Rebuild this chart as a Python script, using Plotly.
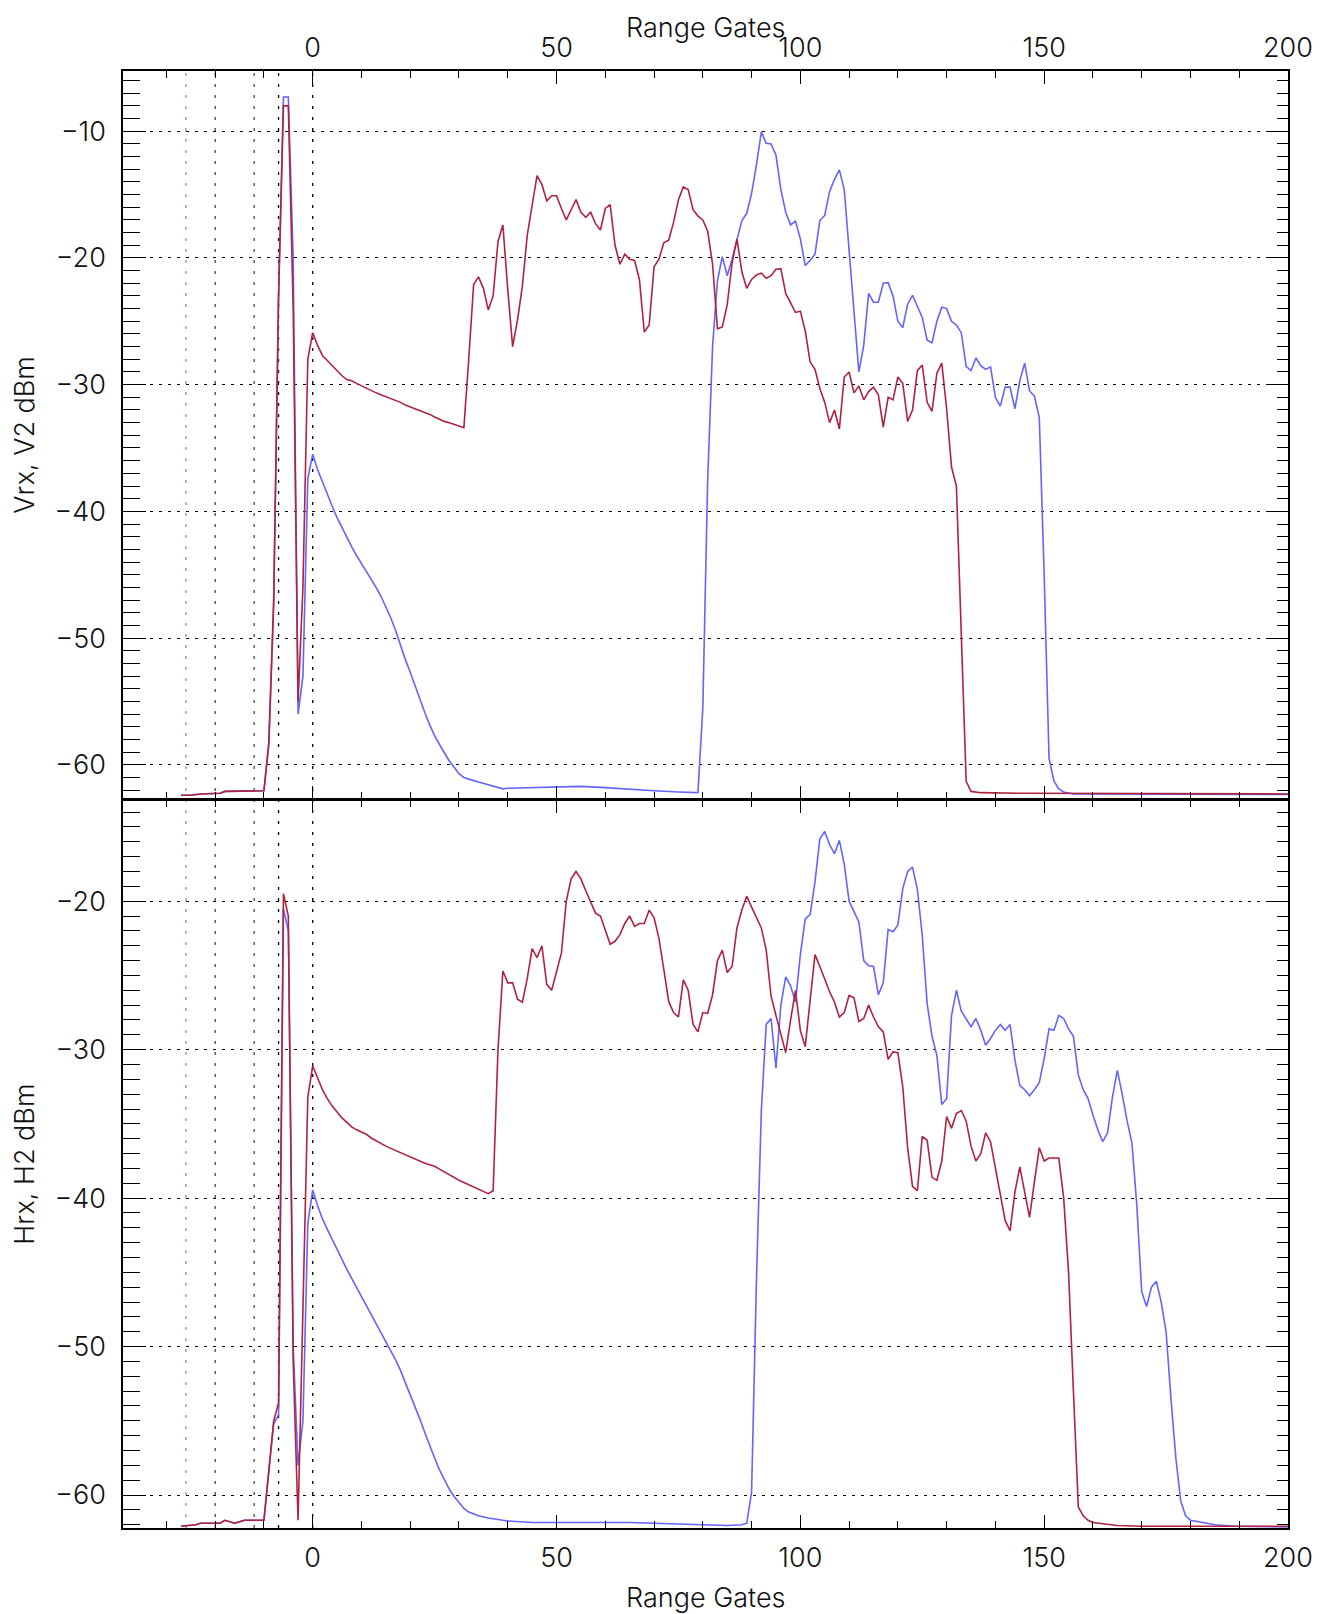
import plotly.graph_objects as go

# ---------------- data ----------------
top_red_gates = [-27, -25, -23, -20, -19, -18, -12, -10, -9, -8, -7, -6, -5, -4, -3, -2, -1,
                 0, 1, 2, 3, 4, 5, 6, 7, 8, 9, 10, 11, 12, 13, 14, 15, 16, 17, 18, 19, 20,
                 21, 22, 23, 24, 25, 26, 27, 28, 29, 30, 31, 32, 33, 34, 35, 36, 37, 38, 39,
                 40, 41, 42, 43, 44, 45, 46, 47, 48, 49, 50, 51, 52, 53, 54, 55, 56, 57, 58,
                 59, 60, 61, 62, 63, 64, 65, 66, 67, 68, 69, 70, 71, 72, 73, 74, 75, 76, 77,
                 78, 79, 80, 81, 82, 83, 84, 85, 86, 87, 88, 89, 90, 91, 92, 93, 94, 95, 96,
                 97, 98, 99, 100, 101, 102, 103, 104, 105, 106, 107, 108, 109, 110, 111, 112,
                 113, 114, 115, 116, 117, 118, 119, 120, 121, 122, 123, 124, 125, 126, 127,
                 128, 129, 130, 131, 132, 133, 134, 135, 137, 145, 200]
top_red_dbm = [-62.4, -62.4, -62.3, -62.3, -62.25, -62.1, -62.05, -62.05, -58.2, -47.0, -23.0,
               -8.0, -8.0, -24.0, -55.0, -46.0, -28.0,
               -25.9, -26.9, -27.7, -28.1, -28.5, -28.9, -29.3, -29.6, -29.7, -29.9, -30.1,
               -30.3, -30.5, -30.65, -30.8, -30.95, -31.05, -31.2, -31.4, -31.6, -31.75,
               -31.85, -32.0, -32.15, -32.35, -32.55, -32.75, -32.9, -33.0, -33.15, -33.3,
               -33.4, -28.0, -22.1, -21.5, -22.4, -24.1, -23.0, -18.7, -17.4,
               -22.5, -27.0, -24.9, -22.2, -18.2, -15.7, -13.5, -14.2, -15.5, -15.1, -15.1,
               -16.1, -17.0, -16.2, -15.4, -16.4, -16.8, -16.4, -17.3, -17.8, -16.1, -15.8,
               -19.0, -20.5, -19.7, -20.1, -20.2, -21.7, -25.85, -25.3, -20.7, -20.1, -18.8,
               -18.6, -17.2, -15.4, -14.4, -14.6, -16.2, -16.7, -17.0, -17.9, -20.5, -25.6,
               -25.45, -23.7, -20.4, -18.5, -21.1, -22.4, -21.7, -21.35, -21.2, -21.6, -21.4,
               -20.9, -20.85, -22.8, -23.6, -24.3, -24.2, -25.75, -28.2, -28.8, -30.3, -31.4,
               -33.0, -32.0, -33.5, -29.4, -29.0, -30.65, -30.1, -31.2, -30.55, -30.2, -30.8,
               -33.35, -31.0, -31.2, -29.4, -29.9, -32.9, -32.0, -28.9, -28.45, -31.4, -32.1,
               -29.1, -28.3, -31.9, -36.5, -38.0, -50.0, -61.3, -62.1, -62.2, -62.25, -62.3]

top_blue_gates = [-27, -25, -23, -20, -19, -18, -12, -10, -9, -8, -7, -6, -5, -4, -3, -2, -1,
                  0, 1, 2, 3, 4, 5, 6, 7, 8, 9, 10, 11, 12, 13, 14, 15, 16, 17, 18, 19, 20,
                  21, 22, 23, 24, 25, 26, 27, 28, 29, 30, 31, 32, 33, 34, 36, 38, 39, 40, 45,
                  50, 55, 60, 65, 70, 75, 79, 80, 81, 82, 83, 84, 85, 86, 87, 88, 89, 90, 91,
                  92, 93, 94, 95, 96, 97, 98, 99, 100, 101, 102, 103, 104, 105, 106, 107, 108,
                  109, 110, 111, 112, 113, 114, 115, 116, 117, 118, 119, 120, 121, 122, 123,
                  124, 125, 126, 127, 128, 129, 130, 131, 132, 133, 134, 135, 136, 137, 138,
                  139, 140, 141, 142, 143, 144, 145, 146, 147, 148, 149, 150, 151, 152, 153,
                  154, 156, 200]
top_blue_dbm = [-62.4, -62.4, -62.3, -62.3, -62.25, -62.1, -62.05, -62.05, -58.5, -47.5, -23.0,
                -7.3, -7.3, -20.0, -56.0, -53.0, -37.4,
                -35.5, -36.7, -37.7, -38.7, -39.6, -40.5, -41.3, -42.1, -42.8, -43.5, -44.1,
                -44.7, -45.3, -46.0, -46.7, -47.5, -48.4, -49.4, -50.6, -51.7, -52.7, -53.8,
                -54.8, -55.9, -56.85, -57.7, -58.4, -59.1, -59.7, -60.2, -60.7, -61.0, -61.15,
                -61.25, -61.35, -61.55, -61.8, -61.9, -61.85, -61.8, -61.75, -61.7, -61.8,
                -61.95, -62.05, -62.15, -62.2, -55.5, -37.5, -27.0, -21.8, -19.9, -21.4, -20.1,
                -18.5, -17.05, -16.5, -14.9, -12.65, -10.05, -10.95, -11.0, -11.9, -14.6,
                -16.4, -17.4, -17.1, -18.5, -20.6, -20.2, -19.7, -17.05, -16.65, -14.75, -13.8,
                -13.05, -14.6, -19.6, -24.4, -29.0, -26.9, -22.8, -23.5, -23.5, -22.0, -21.95,
                -23.0, -25.0, -25.5, -23.65, -22.95, -23.9, -24.7, -26.5, -26.7, -25.0, -23.9,
                -24.0, -25.0, -25.3, -25.9, -28.55, -28.9, -27.9, -28.5, -28.8, -28.6, -31.0,
                -31.7, -30.2, -30.2, -31.9, -29.7, -28.3, -30.5, -30.9, -32.6, -45.0, -59.5,
                -61.3, -61.9, -62.15, -62.3, -62.35]

bot_red_gates = [-27, -24, -23, -19, -18, -17, -16, -15, -14, -10, -9, -8, -7, -6, -5, -4, -3,
                 -2, -1, 0, 1, 2, 3, 4, 5, 6, 7, 8, 9, 10, 11, 12, 13, 14, 15, 16, 17, 18, 19,
                 20, 21, 22, 23, 24, 25, 26, 27, 28, 29, 30, 31, 32, 33, 34, 35, 36, 37, 38,
                 39, 40, 41, 42, 43, 44, 45, 46, 47, 48, 49, 50, 51, 52, 53, 54, 55, 56, 57,
                 58, 59, 60, 61, 62, 63, 64, 65, 66, 67, 68, 69, 70, 71, 72, 73, 74, 75, 76,
                 77, 78, 79, 80, 81, 82, 83, 84, 85, 86, 87, 88, 89, 90, 91, 92, 93, 94, 95,
                 96, 97, 98, 99, 100, 101, 102, 103, 104, 105, 106, 107, 108, 109, 110, 111,
                 112, 113, 114, 115, 116, 117, 118, 119, 120, 121, 122, 123, 124, 125, 126,
                 127, 128, 129, 130, 131, 132, 133, 134, 135, 136, 137, 138, 139, 140, 141,
                 142, 143, 144, 145, 146, 147, 148, 149, 150, 151, 152, 153, 154, 155, 156,
                 157, 158, 159, 160, 162, 165, 170, 200]
bot_red_dbm = [-62.1, -62.0, -61.9, -61.9, -61.7, -61.8, -61.9, -61.8, -61.7, -61.7, -58.4,
               -55.0, -53.8, -19.5, -21.0, -51.0, -61.7, -47.5, -33.2,
               -31.1, -31.9, -32.7, -33.3, -33.8, -34.2, -34.6, -34.9, -35.2, -35.4, -35.55,
               -35.7, -35.95, -36.15, -36.35, -36.5, -36.65, -36.8, -36.95, -37.1, -37.25,
               -37.35, -37.5, -37.65, -37.75, -37.85, -38.05, -38.25, -38.45, -38.65, -38.8,
               -38.95, -39.1, -39.25, -39.4, -39.55, -39.7, -39.5, -30.0, -24.7, -25.5, -25.5,
               -26.6, -26.8, -25.2, -23.2, -23.8, -23.0, -25.6, -26.0, -24.8, -23.5, -20.0,
               -18.5, -18.0, -18.5, -19.3, -20.0, -20.8, -21.0, -22.0, -22.9, -22.7, -22.25,
               -21.5, -21.0, -21.7, -21.5, -21.5, -20.6, -21.1, -22.5, -24.6, -26.75, -27.5,
               -27.8, -25.3, -26.0, -28.3, -28.8, -27.5, -27.55, -26.3, -24.0, -23.3, -24.8,
               -24.4, -21.8, -20.6, -19.66, -20.4, -21.1, -21.8, -23.3, -26.4, -27.7, -28.9,
               -30.2, -28.0, -26.0, -28.7, -29.8, -26.7, -23.6, -24.4, -25.3, -26.1, -26.8,
               -27.8, -27.5, -26.35, -26.5, -28.1, -27.9, -27.0, -27.8, -28.45, -28.8, -30.65,
               -30.15, -30.2, -32.5, -36.6, -39.2, -39.5, -35.85, -36.1, -38.6, -38.8, -37.5,
               -34.5, -35.3, -34.3, -34.1, -34.8, -36.5, -37.5, -37.0, -35.6, -36.2, -37.9,
               -39.55, -41.5, -42.2, -39.6, -37.9, -39.7, -41.3, -38.9, -36.6, -37.5, -37.3,
               -37.3, -37.3, -40.0, -45.0, -53.0, -60.8, -61.4, -61.7, -61.85, -61.95, -62.05,
               -62.1, -62.1]

bot_blue_gates = [-27, -24, -23, -19, -18, -17, -16, -15, -14, -10, -9, -8, -7, -6, -5, -4, -3,
                  -2, -1, 0, 1, 2, 3, 4, 5, 6, 7, 8, 9, 10, 11, 12, 13, 14, 15, 16, 17, 18, 19,
                  20, 21, 22, 23, 24, 25, 26, 27, 28, 29, 30, 31, 32, 33, 34, 36, 38, 40, 45,
                  50, 55, 60, 65, 70, 75, 80, 85, 88, 89, 90, 91, 92, 93, 94, 95, 96, 97, 98,
                  99, 100, 101, 102, 103, 104, 105, 106, 107, 108, 109, 110, 111, 112, 113, 114,
                  115, 116, 117, 118, 119, 120, 121, 122, 123, 124, 125, 126, 127, 128, 129,
                  130, 131, 132, 133, 134, 135, 136, 137, 138, 139, 140, 141, 142, 143, 144,
                  145, 146, 147, 148, 149, 150, 151, 152, 153, 154, 155, 156, 157, 158, 159,
                  160, 161, 162, 163, 164, 165, 166, 167, 168, 169, 170, 171, 172, 173, 174,
                  175, 176, 177, 178, 179, 180, 182, 185, 189, 200]
bot_blue_dbm = [-62.1, -62.0, -61.9, -61.9, -61.7, -61.8, -61.9, -61.8, -61.7, -61.7, -58.6,
                -55.2, -54.6, -20.5, -22.0, -50.0, -58.0, -55.0, -41.7,
                -39.46, -40.5, -41.4, -42.1, -42.8, -43.5, -44.2, -44.8, -45.4, -46.0, -46.6,
                -47.2, -47.8, -48.4, -49.0, -49.6, -50.2, -50.9, -51.6, -52.4, -53.2, -54.0,
                -54.9, -55.8, -56.7, -57.5, -58.3, -59.0, -59.6, -60.1, -60.5, -60.9, -61.15,
                -61.3, -61.4, -61.55, -61.65, -61.75, -61.85, -61.85, -61.85, -61.8, -61.85,
                -61.9, -61.95, -62.0, -62.05, -62.0, -61.9, -59.8, -45.5, -34.1, -28.3, -27.9,
                -31.25, -27.0, -25.1, -25.7, -26.8, -23.6, -21.2, -20.9, -18.7, -15.8, -15.3,
                -16.2, -16.8, -15.9, -17.5, -20.0, -20.65, -21.4, -24.0, -24.35, -24.4, -26.3,
                -25.5, -21.9, -22.05, -21.6, -19.15, -18.0, -17.7, -19.2, -22.3, -26.9, -29.1,
                -30.4, -33.7, -33.3, -27.7, -26.0, -27.4, -27.95, -28.45, -27.9, -28.7, -29.7,
                -29.25, -28.7, -28.3, -28.7, -28.3, -30.7, -32.4, -32.7, -33.1, -32.7, -32.2,
                -30.6, -28.6, -28.7, -27.7, -27.9, -28.6, -29.1, -31.7, -32.7, -33.3, -34.4,
                -35.4, -36.2, -35.6, -33.2, -31.4, -33.0, -34.8, -36.3, -40.5, -46.3, -47.3,
                -46.0, -45.6, -47.0, -49.0, -53.5, -57.5, -60.4, -61.4, -61.7, -61.8, -62.0,
                -62.1, -62.15]

marker_gates = [-26, -20, -12, -7, 0]
top_range = [-62.68, -5.25]
bot_range = [-62.22, -13.2]
x_range = [-38.9, 200]

# ---------------- styles / layout ----------------
BLUE = "#6464ff"
RED = "#b0223f"
marker_colors = ["#8a8ac0", "#444444", "#444444", "#000000", "#000000"]
FONT = "Inter, DejaVu Sans, sans-serif"
FS = 27
LW = 1.5

# the page body adds an 8px offset; figure is sized/margined to compensate
FIG_W, FIG_H = 1324, 1606
M_L, M_T = 115.3, 63
M_R = FIG_W - 1280
M_B = FIG_H - 1520.5
PLOT_H = FIG_H - M_T - M_B
HALF_GAP = (LW / 2) / PLOT_H  # so the two middle axis lines coincide

fig = go.Figure()
fig.add_trace(go.Scatter(x=top_blue_gates, y=top_blue_dbm, mode="lines", xaxis="x2", yaxis="y2",
                         line=dict(color=BLUE, width=1.6), showlegend=False))
fig.add_trace(go.Scatter(x=top_red_gates, y=top_red_dbm, mode="lines", xaxis="x2", yaxis="y2",
                         line=dict(color=RED, width=1.6), showlegend=False))
fig.add_trace(go.Scatter(x=bot_blue_gates, y=bot_blue_dbm, mode="lines", xaxis="x", yaxis="y",
                         line=dict(color=BLUE, width=1.6), showlegend=False))
fig.add_trace(go.Scatter(x=bot_red_gates, y=bot_red_dbm, mode="lines", xaxis="x", yaxis="y",
                         line=dict(color=RED, width=1.6), showlegend=False))
# empty traces so the right-side tick axes exist
fig.add_trace(go.Scatter(x=[], y=[], xaxis="x", yaxis="y3", showlegend=False))
fig.add_trace(go.Scatter(x=[], y=[], xaxis="x2", yaxis="y4", showlegend=False))

for g, c in zip(marker_gates, marker_colors):
    fig.add_shape(type="line", xref="x", yref="paper", x0=g, x1=g, y0=0, y1=1,
                  line=dict(color=c, width=1.3, dash="3px,8px"), layer="below")

tickfont = dict(family=FONT, size=FS, color="#111111", weight=300)
titlefont = dict(family=FONT, size=FS, color="#111111", weight=300)

def xaxis_style(standoff):
    return dict(range=x_range, tick0=0, dtick=50, ticks="inside", ticklen=13, tickwidth=1.3,
                tickcolor="black", showline=True, linecolor="black", linewidth=LW,
                mirror="ticks", showgrid=False, zeroline=False, tickfont=tickfont,
                automargin=False,
                minor=dict(ticks="inside", ticklen=7, tickwidth=1.3, tick0=0, dtick=10,
                           tickcolor="black", showgrid=False),
                ticklabelstandoff=standoff)

ycommon_left = dict(tick0=0, dtick=10, ticks="inside", ticklen=23, tickwidth=1.3,
                    tickcolor="black", showline=True, linecolor="black", linewidth=LW,
                    mirror=False, showgrid=True, gridcolor="black", gridwidth=1,
                    griddash="3px,6px", zeroline=False, tickfont=tickfont, automargin=False,
                    minor=dict(ticks="inside", ticklen=17, tickwidth=1.3, tick0=0, dtick=1,
                               tickcolor="black", showgrid=False),
                    ticklabelstandoff=10)
yright = dict(tick0=0, dtick=10, ticks="inside", ticklen=22, tickwidth=1.3, tickcolor="black",
              showline=True, linecolor="black", linewidth=LW, showgrid=False, zeroline=False,
              showticklabels=False, side="right", automargin=False,
              minor=dict(ticks="inside", ticklen=11, tickwidth=1.3, tick0=0, dtick=1,
                         tickcolor="black", showgrid=False))

fig.update_layout(
    width=FIG_W, height=FIG_H,
    margin=dict(l=M_L, r=M_R, t=M_T, b=M_B, autoexpand=False),
    paper_bgcolor="white", plot_bgcolor="white",
    xaxis=dict(**xaxis_style(5), domain=[0, 1], anchor="y", side="bottom"),
    xaxis2=dict(**xaxis_style(1), domain=[0, 1], anchor="y2", side="top"),
    yaxis=dict(**ycommon_left, domain=[0, 0.5 - HALF_GAP], anchor="x", range=bot_range,
               title=dict(text="Hrx, H2 dBm", font=titlefont, standoff=18)),
    yaxis2=dict(**ycommon_left, domain=[0.5 + HALF_GAP, 1], anchor="x2", range=top_range,
                title=dict(text="Vrx, V2 dBm", font=titlefont, standoff=18)),
    yaxis3=dict(**yright, overlaying="y", anchor="x", range=bot_range),
    yaxis4=dict(**yright, overlaying="y2", anchor="x2", range=top_range),
    annotations=[
        dict(text="Range Gates", xref="paper", yref="paper", x=0.5,
             y=1 + (M_T - 1) / PLOT_H, xanchor="center", yanchor="top", height=32,
             valign="middle", showarrow=False, font=titlefont),
        dict(text="Range Gates", xref="paper", yref="paper", x=0.5,
             y=-(1590 - 1520.5) / PLOT_H, xanchor="center", yanchor="middle",
             showarrow=False, font=titlefont),
    ],
)

fig.write_html("out.html")
